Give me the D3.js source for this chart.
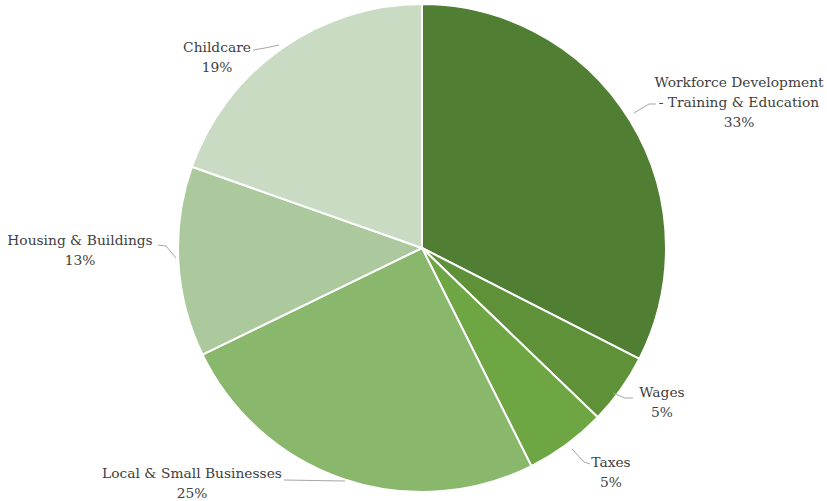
<!DOCTYPE html>
<html><head><meta charset="utf-8">
<script src="https://cdn.jsdelivr.net/npm/d3@7"></script>
<style>body{margin:0;background:#fff}</style>
</head><body>
<svg id="c" width="827" height="501"></svg>
<script>
const categories = ["Workforce Development - Training & Education","Wages","Taxes","Local & Small Businesses","Housing & Buildings","Childcare"];
const values = [32.5, 4.7, 5.4, 25.2, 12.6, 19.6];
const pctLabels = ["33%","5%","5%","25%","13%","19%"];
const labelLines = [["Workforce Development","- Training & Education"],["Wages"],["Taxes"],["Local & Small Businesses"],["Housing & Buildings"],["Childcare"]];
const colors = ["#507e32","#5f9238","#6da642","#89b76c","#abc99c","#c9dcc3"];
const labelPos = [[739,87],[662,397],[611,467],[192,478],[80,245],[217,52]];
const leaders = [
  [[634,113],[649,104],[656,104]],
  [[613,393],[625,398],[633,398]],
  [[572,449],[584,462],[590,464]],
  [[345,481],[284,480]],
  [[176,258],[166,246],[158,245]],
  [[279,45],[265,48],[253,50]]
];

const svg = d3.select("#c");
const cx = 422, cy = 248, r = 244;
const pie = d3.pie().sort(null).value(d => d)(values);
const arc = d3.arc().innerRadius(0).outerRadius(r);
const g = svg.append("g").attr("transform",`translate(${cx},${cy})`);
g.selectAll("path").data(pie).join("path")
  .attr("d", arc).attr("fill",(d,i)=>colors[i])
  .attr("stroke","#fff").attr("stroke-width",2).attr("stroke-linejoin","round");

svg.selectAll("polyline").data(leaders).join("polyline")
  .attr("points", d => d.map(p=>p.join(",")).join(" "))
  .attr("fill","none").attr("stroke","#a6a6a6").attr("stroke-width",1);

const font = "'DejaVu Serif', serif";
labelLines.forEach((lines,i)=>{
  const [x,y] = labelPos[i];
  const t = svg.append("text").attr("x",x).attr("y",y)
    .attr("text-anchor","middle").attr("font-family",font)
    .attr("font-size",13.8).attr("fill","#404040");
  lines.concat([pctLabels[i]]).forEach((s,j)=>{
    t.append("tspan").attr("x",x).attr("dy", j===0?0:20).text(s);
  });
});
</script>
</body></html>
